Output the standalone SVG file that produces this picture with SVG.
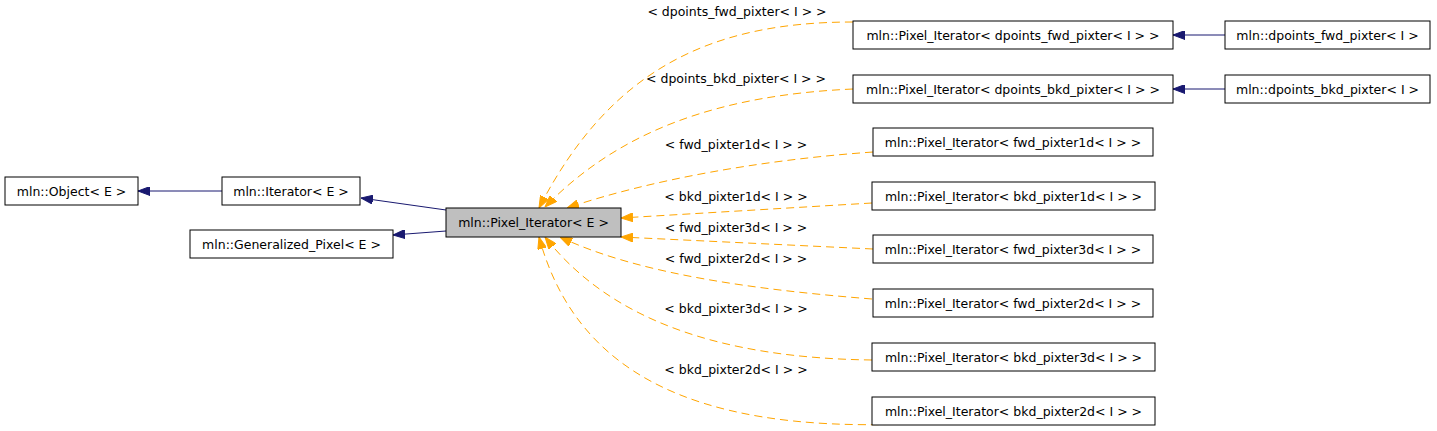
<svg xmlns="http://www.w3.org/2000/svg" width="1437" height="431" viewBox="0 0 1437 431">
<style>
  .box { fill: #ffffff; stroke: #000000; stroke-width: 1; }
  .cur { fill: #bfbfbf; stroke: #000000; stroke-width: 1; }
  text { font-family: "DejaVu Sans", "Liberation Sans", sans-serif; font-size: 12.5px; fill: #000000; text-anchor: middle; }
  .inh { fill: none; stroke: #191970; stroke-width: 1; marker-end: url(#navy); }
  .tpl { fill: none; stroke: #ffa500; stroke-width: 1; stroke-dasharray: 8,5; marker-end: url(#orange); }
</style>
<defs>
  <marker id="navy" viewBox="0 0 12 9" refX="12" refY="4.5" markerUnits="userSpaceOnUse" markerWidth="12" markerHeight="9" orient="auto">
    <path d="M0,0 L12,4.5 L0,9 Z" fill="#191970" stroke="#191970"/>
  </marker>
  <marker id="orange" viewBox="0 0 12 9" refX="12" refY="4.5" markerUnits="userSpaceOnUse" markerWidth="12" markerHeight="9" orient="auto">
    <path d="M0,0 L12,4.5 L0,9 Z" fill="#ffa500" stroke="#ffa500"/>
  </marker>
</defs>
<rect width="1437" height="431" fill="#ffffff"/>
<g id="connectors">
  <path class="inh" d="M222,191 L138,191"/>
  <path class="inh" d="M446,210 L361,198"/>
  <path class="inh" d="M446,231 L393,235"/>
  <path class="inh" d="M1225,35 L1173,35"/>
  <path class="inh" d="M1225,89 L1173,89"/>
  <path class="tpl" d="M853,22 C710,22 610,70 539,208"/>
  <path class="tpl" d="M853,89 C720,95 620,130 545,207"/>
  <path class="tpl" d="M873,152 C760,160 650,180 567,208"/>
  <path class="tpl" d="M872,203 L621,218"/>
  <path class="tpl" d="M873,249 L621,237"/>
  <path class="tpl" d="M872,299 C760,290 640,275 560,237"/>
  <path class="tpl" d="M872,360 C720,358 610,320 545,237"/>
  <path class="tpl" d="M905,424 C690,432 575,370 539,237"/>
  <text x="737" y="16">&lt; dpoints_fwd_pixter&lt; I &gt; &gt;</text>
  <text x="736" y="83">&lt; dpoints_bkd_pixter&lt; I &gt; &gt;</text>
  <text x="736" y="149">&lt; fwd_pixter1d&lt; I &gt; &gt;</text>
  <text x="736" y="201">&lt; bkd_pixter1d&lt; I &gt; &gt;</text>
  <text x="736" y="232">&lt; fwd_pixter3d&lt; I &gt; &gt;</text>
  <text x="736" y="263">&lt; fwd_pixter2d&lt; I &gt; &gt;</text>
  <text x="736" y="313">&lt; bkd_pixter3d&lt; I &gt; &gt;</text>
  <text x="736" y="374">&lt; bkd_pixter2d&lt; I &gt; &gt;</text>
</g>
<g id="object"><rect class="box" x="5" y="177" width="133" height="28"/><text x="71.5" y="195.5">mln::Object&lt; E &gt;</text></g>
<g id="iterator"><rect class="box" x="222" y="177" width="138" height="28"/><text x="291" y="195.5">mln::Iterator&lt; E &gt;</text></g>
<g id="generalized_pixel"><rect class="box" x="190" y="230" width="203" height="28"/><text x="291.5" y="248.5">mln::Generalized_Pixel&lt; E &gt;</text></g>
<g id="pixel_iterator"><rect class="cur" x="446" y="208" width="175" height="29"/><text x="533.5" y="227">mln::Pixel_Iterator&lt; E &gt;</text></g>
<g id="pi_dpoints_fwd"><rect class="box" x="853" y="21" width="320" height="28"/><text x="1013" y="39.5">mln::Pixel_Iterator&lt; dpoints_fwd_pixter&lt; I &gt; &gt;</text></g>
<g id="pi_dpoints_bkd"><rect class="box" x="853" y="75" width="320" height="28"/><text x="1013" y="93.5">mln::Pixel_Iterator&lt; dpoints_bkd_pixter&lt; I &gt; &gt;</text></g>
<g id="dpoints_fwd"><rect class="box" x="1225" y="21" width="205" height="28"/><text x="1327.5" y="39.5">mln::dpoints_fwd_pixter&lt; I &gt;</text></g>
<g id="dpoints_bkd"><rect class="box" x="1225" y="75" width="205" height="28"/><text x="1327.5" y="93.5">mln::dpoints_bkd_pixter&lt; I &gt;</text></g>
<g id="pi_fwd1d"><rect class="box" x="873" y="128" width="280" height="28"/><text x="1013" y="146.5">mln::Pixel_Iterator&lt; fwd_pixter1d&lt; I &gt; &gt;</text></g>
<g id="pi_bkd1d"><rect class="box" x="872" y="182" width="283" height="28"/><text x="1013.5" y="200.5">mln::Pixel_Iterator&lt; bkd_pixter1d&lt; I &gt; &gt;</text></g>
<g id="pi_fwd3d"><rect class="box" x="873" y="235" width="280" height="28"/><text x="1013" y="253.5">mln::Pixel_Iterator&lt; fwd_pixter3d&lt; I &gt; &gt;</text></g>
<g id="pi_fwd2d"><rect class="box" x="873" y="289" width="280" height="28"/><text x="1013" y="307.5">mln::Pixel_Iterator&lt; fwd_pixter2d&lt; I &gt; &gt;</text></g>
<g id="pi_bkd3d"><rect class="box" x="872" y="343" width="283" height="28"/><text x="1013.5" y="361.5">mln::Pixel_Iterator&lt; bkd_pixter3d&lt; I &gt; &gt;</text></g>
<g id="pi_bkd2d"><rect class="box" x="872" y="397" width="283" height="28"/><text x="1013.5" y="415.5">mln::Pixel_Iterator&lt; bkd_pixter2d&lt; I &gt; &gt;</text></g>
</svg>
